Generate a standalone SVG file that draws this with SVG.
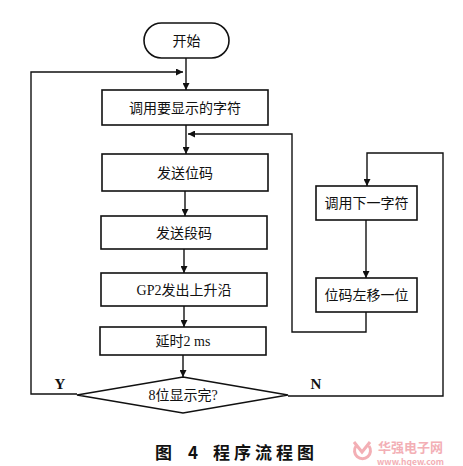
<svg xmlns="http://www.w3.org/2000/svg" width="463" height="466" viewBox="0 0 463 466">
<defs>
<marker id="ah" viewBox="0 0 10 10" refX="10" refY="5" markerWidth="7" markerHeight="7" markerUnits="userSpaceOnUse" orient="auto">
<path d="M0,0 L10,5 L0,10 Z" fill="#111"/>
</marker>
<style>
.box{fill:#fff;stroke:#111;stroke-width:1.6}
.ln{fill:none;stroke:#111;stroke-width:1.4}
.t{font-family:"Liberation Serif","Noto Sans CJK SC",serif;font-size:14px;fill:#111;text-anchor:middle}
.yn{font-family:"Liberation Serif",serif;font-size:15px;font-weight:bold;fill:#111;text-anchor:middle}
.cap{font-family:"Noto Sans CJK SC",sans-serif;font-size:17px;font-weight:bold;fill:#111}
.wm{font-family:"Noto Sans CJK SC",sans-serif;fill:#f2a7ae}
</style>
</defs>
<rect width="463" height="466" fill="#fff"/>
<g id="connectors">
<line class="ln" x1="186" y1="58" x2="186" y2="90" marker-end="url(#ah)"/>
<polyline class="ln" points="77,394 31,394 31,72 183,72" marker-end="url(#ah)"/>
<line class="ln" x1="186" y1="125" x2="186" y2="154" marker-end="url(#ah)"/>
<polyline class="ln" points="366,312 366,332 292,332 292,134 188,134" marker-end="url(#ah)"/>
<line class="ln" x1="185" y1="191" x2="185" y2="216" marker-end="url(#ah)"/>
<line class="ln" x1="184" y1="249" x2="184" y2="273" marker-end="url(#ah)"/>
<line class="ln" x1="184" y1="306" x2="184" y2="327" marker-end="url(#ah)"/>
<line class="ln" x1="183" y1="355" x2="183" y2="377" marker-end="url(#ah)"/>
<polyline class="ln" points="288,396 443,396 443,153 367,153 367,186" marker-end="url(#ah)"/>
<line class="ln" x1="366" y1="220" x2="366" y2="278" marker-end="url(#ah)"/>
</g>
<g id="start">
<rect class="box" x="144" y="23" width="85" height="35" rx="17.5"/>
<text class="t" x="186.5" y="45.5">开始</text>
</g>
<g id="call-char">
<rect class="box" x="102" y="90" width="166" height="35"/>
<text class="t" x="185" y="112.5">调用要显示的字符</text>
</g>
<g id="send-bit">
<rect class="box" x="102" y="154" width="166" height="37"/>
<text class="t" x="185" y="177.5">发送位码</text>
</g>
<g id="send-seg">
<rect class="box" x="101" y="216" width="166" height="33"/>
<text class="t" x="184" y="237.5">发送段码</text>
</g>
<g id="gp2">
<rect class="box" x="101" y="273" width="166" height="33"/>
<text class="t" x="184" y="294.5">GP2发出上升沿</text>
</g>
<g id="delay">
<rect class="box" x="100" y="327" width="166" height="28"/>
<text class="t" x="183" y="346">延时2 ms</text>
</g>
<g id="decision">
<polygon class="box" points="183,377 288,395 183,413 77,395"/>
<text class="t" x="183" y="400">8位显示完?</text>
<text class="yn" x="60" y="389">Y</text>
<text class="yn" x="316" y="389">N</text>
</g>
<g id="next-char">
<rect class="box" x="316" y="186" width="101" height="34"/>
<text class="t" x="366.5" y="207.5">调用下一字符</text>
</g>
<g id="shift">
<rect class="box" x="316" y="278" width="101" height="34"/>
<text class="t" x="366.5" y="299.5">位码左移一位</text>
</g>
<g id="caption">
<text class="cap" x="155" y="459">图</text>
<text class="cap" x="188" y="459">4</text>
<text class="cap" x="213" y="459" letter-spacing="4">程序流程图</text>
</g>
<g id="watermark" opacity="0.9">
<path d="M354,442 L362,452 L370,442 M356,446 a8,8 0 1,0 13,0" fill="none" stroke="#f2a7ae" stroke-width="3"/>
<text class="wm" x="378" y="452" font-size="13" font-weight="bold">华强电子网</text>
<text class="wm" x="377" y="465" font-size="8.5" font-weight="bold">www.hqew.com</text>
</g>
</svg>
